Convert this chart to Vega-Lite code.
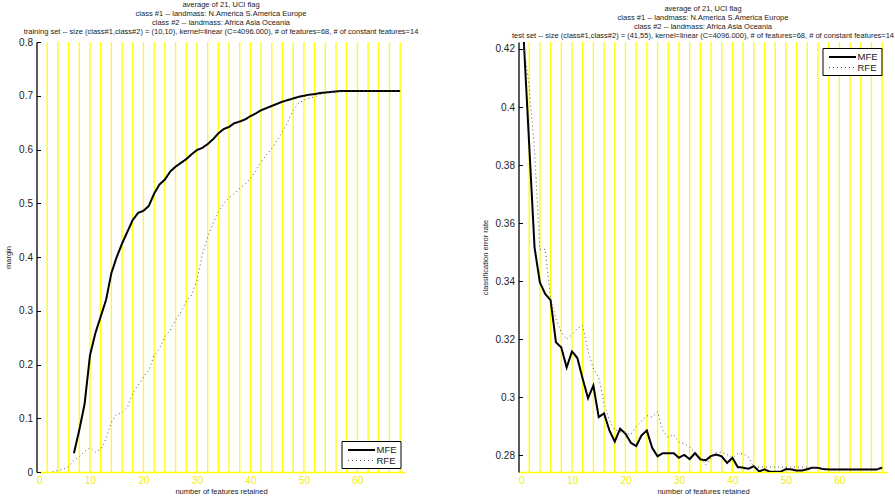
{
  "$schema": "https://vega.github.io/schema/vega-lite/v6.json",
  "padding": {"left": 4.5, "top": 0, "right": 0, "bottom": 0},
  "background": "white",
  "bounds": "flush",
  "spacing": 113,
  "config": {
    "font": "Liberation Sans",
    "view": {"stroke": null},
    "title": {"fontSize": 7.5, "fontWeight": "normal", "color": "#222", "lineHeight": 9, "offset": 2, "frame": "group", "anchor": "middle"},
    "axis": {"labelFont": "Liberation Sans", "titleFont": "Liberation Sans", "grid": false},
    "legend": {"labelFont": "Liberation Sans"}
  },
  "datasets": {
    "grid": [
      {"n": 2}, {"n": 4}, {"n": 6}, {"n": 8}, {"n": 10}, {"n": 12}, {"n": 14}, {"n": 16}, {"n": 18}, {"n": 20},
      {"n": 22}, {"n": 24}, {"n": 26}, {"n": 28}, {"n": 30}, {"n": 32}, {"n": 34}, {"n": 36}, {"n": 38}, {"n": 40},
      {"n": 42}, {"n": 44}, {"n": 46}, {"n": 48}, {"n": 50}, {"n": 52}, {"n": 54}, {"n": 56}, {"n": 58}, {"n": 60},
      {"n": 62}, {"n": 64}, {"n": 66}, {"n": 68}
    ],
    "train": [
      {"series": "MFE", "n": 7, "v": 0.035}, {"series": "MFE", "n": 8, "v": 0.078}, {"series": "MFE", "n": 9, "v": 0.127},
      {"series": "MFE", "n": 10, "v": 0.217}, {"series": "MFE", "n": 11, "v": 0.258}, {"series": "MFE", "n": 12, "v": 0.289},
      {"series": "MFE", "n": 13, "v": 0.32}, {"series": "MFE", "n": 14, "v": 0.37}, {"series": "MFE", "n": 15, "v": 0.4},
      {"series": "MFE", "n": 16, "v": 0.425}, {"series": "MFE", "n": 17, "v": 0.447}, {"series": "MFE", "n": 18, "v": 0.469},
      {"series": "MFE", "n": 19, "v": 0.482}, {"series": "MFE", "n": 20, "v": 0.486}, {"series": "MFE", "n": 21, "v": 0.495},
      {"series": "MFE", "n": 22, "v": 0.518}, {"series": "MFE", "n": 23, "v": 0.535}, {"series": "MFE", "n": 24, "v": 0.544},
      {"series": "MFE", "n": 25, "v": 0.559}, {"series": "MFE", "n": 26, "v": 0.568}, {"series": "MFE", "n": 27, "v": 0.575},
      {"series": "MFE", "n": 28, "v": 0.582}, {"series": "MFE", "n": 29, "v": 0.591}, {"series": "MFE", "n": 30, "v": 0.599},
      {"series": "MFE", "n": 31, "v": 0.603}, {"series": "MFE", "n": 32, "v": 0.61}, {"series": "MFE", "n": 33, "v": 0.619},
      {"series": "MFE", "n": 34, "v": 0.63}, {"series": "MFE", "n": 35, "v": 0.638}, {"series": "MFE", "n": 36, "v": 0.642},
      {"series": "MFE", "n": 37, "v": 0.649}, {"series": "MFE", "n": 38, "v": 0.652}, {"series": "MFE", "n": 39, "v": 0.656},
      {"series": "MFE", "n": 40, "v": 0.662}, {"series": "MFE", "n": 41, "v": 0.667}, {"series": "MFE", "n": 42, "v": 0.673},
      {"series": "MFE", "n": 43, "v": 0.677}, {"series": "MFE", "n": 44, "v": 0.681}, {"series": "MFE", "n": 45, "v": 0.685},
      {"series": "MFE", "n": 46, "v": 0.689}, {"series": "MFE", "n": 47, "v": 0.692}, {"series": "MFE", "n": 48, "v": 0.695},
      {"series": "MFE", "n": 49, "v": 0.698}, {"series": "MFE", "n": 50, "v": 0.7}, {"series": "MFE", "n": 51, "v": 0.702},
      {"series": "MFE", "n": 52, "v": 0.703}, {"series": "MFE", "n": 53, "v": 0.705}, {"series": "MFE", "n": 54, "v": 0.706},
      {"series": "MFE", "n": 55, "v": 0.707}, {"series": "MFE", "n": 56, "v": 0.708}, {"series": "MFE", "n": 57, "v": 0.709},
      {"series": "MFE", "n": 58, "v": 0.709}, {"series": "MFE", "n": 59, "v": 0.709}, {"series": "MFE", "n": 60, "v": 0.709},
      {"series": "MFE", "n": 61, "v": 0.709}, {"series": "MFE", "n": 62, "v": 0.709}, {"series": "MFE", "n": 63, "v": 0.709},
      {"series": "MFE", "n": 64, "v": 0.709}, {"series": "MFE", "n": 65, "v": 0.709}, {"series": "MFE", "n": 66, "v": 0.709},
      {"series": "MFE", "n": 67, "v": 0.709}, {"series": "MFE", "n": 68, "v": 0.709},
      {"series": "RFE", "n": 3, "v": 0.0}, {"series": "RFE", "n": 4, "v": 0.003}, {"series": "RFE", "n": 5, "v": 0.005},
      {"series": "RFE", "n": 6, "v": 0.01}, {"series": "RFE", "n": 7, "v": 0.022}, {"series": "RFE", "n": 8, "v": 0.028},
      {"series": "RFE", "n": 9, "v": 0.038}, {"series": "RFE", "n": 10, "v": 0.045}, {"series": "RFE", "n": 11, "v": 0.037},
      {"series": "RFE", "n": 12, "v": 0.042}, {"series": "RFE", "n": 13, "v": 0.062}, {"series": "RFE", "n": 14, "v": 0.093},
      {"series": "RFE", "n": 15, "v": 0.108}, {"series": "RFE", "n": 16, "v": 0.11}, {"series": "RFE", "n": 17, "v": 0.121},
      {"series": "RFE", "n": 18, "v": 0.146}, {"series": "RFE", "n": 19, "v": 0.161}, {"series": "RFE", "n": 20, "v": 0.177},
      {"series": "RFE", "n": 21, "v": 0.189}, {"series": "RFE", "n": 22, "v": 0.217}, {"series": "RFE", "n": 23, "v": 0.23},
      {"series": "RFE", "n": 24, "v": 0.251}, {"series": "RFE", "n": 25, "v": 0.264}, {"series": "RFE", "n": 26, "v": 0.282},
      {"series": "RFE", "n": 27, "v": 0.298}, {"series": "RFE", "n": 28, "v": 0.317}, {"series": "RFE", "n": 29, "v": 0.329},
      {"series": "RFE", "n": 30, "v": 0.356}, {"series": "RFE", "n": 31, "v": 0.405}, {"series": "RFE", "n": 32, "v": 0.437},
      {"series": "RFE", "n": 33, "v": 0.462}, {"series": "RFE", "n": 34, "v": 0.484}, {"series": "RFE", "n": 35, "v": 0.5},
      {"series": "RFE", "n": 36, "v": 0.51}, {"series": "RFE", "n": 37, "v": 0.518}, {"series": "RFE", "n": 38, "v": 0.528},
      {"series": "RFE", "n": 39, "v": 0.535}, {"series": "RFE", "n": 40, "v": 0.546}, {"series": "RFE", "n": 41, "v": 0.56},
      {"series": "RFE", "n": 42, "v": 0.577}, {"series": "RFE", "n": 43, "v": 0.59}, {"series": "RFE", "n": 44, "v": 0.602},
      {"series": "RFE", "n": 45, "v": 0.617}, {"series": "RFE", "n": 46, "v": 0.633}, {"series": "RFE", "n": 47, "v": 0.652},
      {"series": "RFE", "n": 48, "v": 0.673}, {"series": "RFE", "n": 49, "v": 0.686}, {"series": "RFE", "n": 50, "v": 0.692},
      {"series": "RFE", "n": 51, "v": 0.695}, {"series": "RFE", "n": 52, "v": 0.698}, {"series": "RFE", "n": 53, "v": 0.702},
      {"series": "RFE", "n": 54, "v": 0.705}, {"series": "RFE", "n": 55, "v": 0.706}, {"series": "RFE", "n": 56, "v": 0.7075},
      {"series": "RFE", "n": 57, "v": 0.708}, {"series": "RFE", "n": 58, "v": 0.709}, {"series": "RFE", "n": 59, "v": 0.709},
      {"series": "RFE", "n": 60, "v": 0.709}, {"series": "RFE", "n": 61, "v": 0.709}, {"series": "RFE", "n": 62, "v": 0.709},
      {"series": "RFE", "n": 63, "v": 0.709}, {"series": "RFE", "n": 64, "v": 0.709}, {"series": "RFE", "n": 65, "v": 0.709},
      {"series": "RFE", "n": 66, "v": 0.709}, {"series": "RFE", "n": 67, "v": 0.709}, {"series": "RFE", "n": 68, "v": 0.709}
    ],
    "test": [
      {"series": "MFE", "n": 1, "v": 0.4224}, {"series": "MFE", "n": 2, "v": 0.387}, {"series": "MFE", "n": 3, "v": 0.3516},
      {"series": "MFE", "n": 4, "v": 0.3396}, {"series": "MFE", "n": 5, "v": 0.3356}, {"series": "MFE", "n": 6, "v": 0.3335},
      {"series": "MFE", "n": 7, "v": 0.319}, {"series": "MFE", "n": 8, "v": 0.3172}, {"series": "MFE", "n": 9, "v": 0.3103},
      {"series": "MFE", "n": 10, "v": 0.3158}, {"series": "MFE", "n": 11, "v": 0.3136}, {"series": "MFE", "n": 12, "v": 0.3064},
      {"series": "MFE", "n": 13, "v": 0.2997}, {"series": "MFE", "n": 14, "v": 0.3041}, {"series": "MFE", "n": 15, "v": 0.2932},
      {"series": "MFE", "n": 16, "v": 0.2945}, {"series": "MFE", "n": 17, "v": 0.2886}, {"series": "MFE", "n": 18, "v": 0.2848},
      {"series": "MFE", "n": 19, "v": 0.2892}, {"series": "MFE", "n": 20, "v": 0.2875}, {"series": "MFE", "n": 21, "v": 0.2844},
      {"series": "MFE", "n": 22, "v": 0.2832}, {"series": "MFE", "n": 23, "v": 0.2869}, {"series": "MFE", "n": 24, "v": 0.2886},
      {"series": "MFE", "n": 25, "v": 0.2826}, {"series": "MFE", "n": 26, "v": 0.2797}, {"series": "MFE", "n": 27, "v": 0.2808},
      {"series": "MFE", "n": 28, "v": 0.2808}, {"series": "MFE", "n": 29, "v": 0.2808}, {"series": "MFE", "n": 30, "v": 0.2792},
      {"series": "MFE", "n": 31, "v": 0.2802}, {"series": "MFE", "n": 32, "v": 0.2787}, {"series": "MFE", "n": 33, "v": 0.2808},
      {"series": "MFE", "n": 34, "v": 0.2787}, {"series": "MFE", "n": 35, "v": 0.2783}, {"series": "MFE", "n": 36, "v": 0.2798},
      {"series": "MFE", "n": 37, "v": 0.2803}, {"series": "MFE", "n": 38, "v": 0.2797}, {"series": "MFE", "n": 39, "v": 0.2774},
      {"series": "MFE", "n": 40, "v": 0.2792}, {"series": "MFE", "n": 41, "v": 0.276}, {"series": "MFE", "n": 42, "v": 0.2758},
      {"series": "MFE", "n": 43, "v": 0.2754}, {"series": "MFE", "n": 44, "v": 0.2763}, {"series": "MFE", "n": 45, "v": 0.2745},
      {"series": "MFE", "n": 46, "v": 0.2752}, {"series": "MFE", "n": 47, "v": 0.2744}, {"series": "MFE", "n": 48, "v": 0.2744},
      {"series": "MFE", "n": 49, "v": 0.2744}, {"series": "MFE", "n": 50, "v": 0.2753}, {"series": "MFE", "n": 51, "v": 0.2752},
      {"series": "MFE", "n": 52, "v": 0.2748}, {"series": "MFE", "n": 53, "v": 0.2748}, {"series": "MFE", "n": 54, "v": 0.2753},
      {"series": "MFE", "n": 55, "v": 0.2758}, {"series": "MFE", "n": 56, "v": 0.2757}, {"series": "MFE", "n": 57, "v": 0.2753},
      {"series": "MFE", "n": 58, "v": 0.2752}, {"series": "MFE", "n": 59, "v": 0.2752}, {"series": "MFE", "n": 60, "v": 0.2752},
      {"series": "MFE", "n": 61, "v": 0.2752}, {"series": "MFE", "n": 62, "v": 0.2752}, {"series": "MFE", "n": 63, "v": 0.2752},
      {"series": "MFE", "n": 64, "v": 0.2752}, {"series": "MFE", "n": 65, "v": 0.2752}, {"series": "MFE", "n": 66, "v": 0.2752},
      {"series": "MFE", "n": 67, "v": 0.2752}, {"series": "MFE", "n": 68, "v": 0.2758},
      {"series": "RFE", "n": 1, "v": 0.421}, {"series": "RFE", "n": 2, "v": 0.407}, {"series": "RFE", "n": 3, "v": 0.385},
      {"series": "RFE", "n": 4, "v": 0.351}, {"series": "RFE", "n": 5, "v": 0.351}, {"series": "RFE", "n": 6, "v": 0.334},
      {"series": "RFE", "n": 7, "v": 0.327}, {"series": "RFE", "n": 8, "v": 0.3225}, {"series": "RFE", "n": 9, "v": 0.32},
      {"series": "RFE", "n": 10, "v": 0.3216}, {"series": "RFE", "n": 11, "v": 0.3237}, {"series": "RFE", "n": 12, "v": 0.3247},
      {"series": "RFE", "n": 13, "v": 0.316}, {"series": "RFE", "n": 14, "v": 0.3098}, {"series": "RFE", "n": 15, "v": 0.3069},
      {"series": "RFE", "n": 16, "v": 0.298}, {"series": "RFE", "n": 17, "v": 0.292}, {"series": "RFE", "n": 18, "v": 0.2888},
      {"series": "RFE", "n": 19, "v": 0.2882}, {"series": "RFE", "n": 20, "v": 0.2876}, {"series": "RFE", "n": 21, "v": 0.2872},
      {"series": "RFE", "n": 22, "v": 0.29}, {"series": "RFE", "n": 23, "v": 0.2918}, {"series": "RFE", "n": 24, "v": 0.2937},
      {"series": "RFE", "n": 25, "v": 0.2932}, {"series": "RFE", "n": 26, "v": 0.295}, {"series": "RFE", "n": 27, "v": 0.2885},
      {"series": "RFE", "n": 28, "v": 0.2862}, {"series": "RFE", "n": 29, "v": 0.2872}, {"series": "RFE", "n": 30, "v": 0.2846},
      {"series": "RFE", "n": 31, "v": 0.284}, {"series": "RFE", "n": 32, "v": 0.2829}, {"series": "RFE", "n": 33, "v": 0.2811},
      {"series": "RFE", "n": 34, "v": 0.279}, {"series": "RFE", "n": 35, "v": 0.2768}, {"series": "RFE", "n": 36, "v": 0.279},
      {"series": "RFE", "n": 37, "v": 0.2811}, {"series": "RFE", "n": 38, "v": 0.2811}, {"series": "RFE", "n": 39, "v": 0.2803},
      {"series": "RFE", "n": 40, "v": 0.2792}, {"series": "RFE", "n": 41, "v": 0.2806}, {"series": "RFE", "n": 42, "v": 0.2806},
      {"series": "RFE", "n": 43, "v": 0.2795}, {"series": "RFE", "n": 44, "v": 0.276}, {"series": "RFE", "n": 45, "v": 0.276},
      {"series": "RFE", "n": 46, "v": 0.276}, {"series": "RFE", "n": 47, "v": 0.276}, {"series": "RFE", "n": 48, "v": 0.276},
      {"series": "RFE", "n": 49, "v": 0.276}, {"series": "RFE", "n": 50, "v": 0.276}, {"series": "RFE", "n": 51, "v": 0.276},
      {"series": "RFE", "n": 52, "v": 0.276}, {"series": "RFE", "n": 53, "v": 0.276}, {"series": "RFE", "n": 54, "v": 0.276},
      {"series": "RFE", "n": 55, "v": 0.276}, {"series": "RFE", "n": 56, "v": 0.2755}, {"series": "RFE", "n": 57, "v": 0.2755},
      {"series": "RFE", "n": 58, "v": 0.2755}, {"series": "RFE", "n": 59, "v": 0.2755}, {"series": "RFE", "n": 60, "v": 0.2755},
      {"series": "RFE", "n": 61, "v": 0.2755}, {"series": "RFE", "n": 62, "v": 0.2755}, {"series": "RFE", "n": 63, "v": 0.2755},
      {"series": "RFE", "n": 64, "v": 0.2755}, {"series": "RFE", "n": 65, "v": 0.2755}, {"series": "RFE", "n": 66, "v": 0.2755},
      {"series": "RFE", "n": 67, "v": 0.2755}, {"series": "RFE", "n": 68, "v": 0.2755}
    ]
  },
  "hconcat": [
    {
      "width": 369,
      "height": 430,
      "title": {"text": ["average of 21, UCI flag", "class #1 -- landmass: N.America S.America Europe", "class #2 -- landmass: Africa Asia Oceania", "training set -- size (class#1,class#2) = (10,10), kernel=linear (C=4096.000), # of features=68, # of constant features=14"]},
      "layer": [
        {
          "data": {"name": "grid"},
          "mark": {"type": "rule", "color": "#ffff00", "strokeWidth": 1.3},
          "encoding": {"x": {"field": "n", "type": "quantitative", "scale": {"domain": [0, 69], "nice": false}}}
        },
        {
          "data": {"name": "train"},
          "mark": {"type": "line", "clip": true},
          "encoding": {
            "x": {"field": "n", "type": "quantitative", "scale": {"domain": [0, 69], "nice": false},
              "axis": {"title": "number of features retained", "values": [0, 10, 20, 30, 40, 50, 60], "ticks": false, "domainColor": "#ffff00", "domainWidth": 1.3, "labelColor": "#f0f000", "labelFontSize": 10, "labelPadding": 3, "titleFontSize": 7.5, "titleFontWeight": "normal", "titleColor": "#222", "titlePadding": 2}},
            "y": {"field": "v", "type": "quantitative", "scale": {"domain": [0, 0.8], "nice": false, "zero": false},
              "axis": {"title": "margin", "values": [0, 0.1, 0.2, 0.3, 0.4, 0.5, 0.6, 0.7, 0.8], "format": "~g", "tickSize": -4, "tickColor": "black", "domainColor": "black", "domainWidth": 1.3, "labelColor": "#222", "labelFontSize": 10, "labelPadding": 8, "titleFontSize": 7.5, "titleFontWeight": "normal", "titleColor": "#222", "titlePadding": 6}},
            "color": {"field": "series", "type": "nominal", "scale": {"domain": ["MFE", "RFE"], "range": ["black", "#555555"]},
              "legend": {"title": null, "orient": "none", "legendX": 305, "legendY": 399, "strokeColor": "black", "fillColor": "white", "padding": 3, "symbolType": "M-0.5,0H4.9", "symbolSize": 100, "labelFontSize": 9.5, "labelColor": "#222", "rowPadding": -2, "labelOffset": 20}},
            "strokeDash": {"field": "series", "type": "nominal", "scale": {"domain": ["MFE", "RFE"], "range": [[1, 0], [1, 3]]},
              "legend": {"title": null, "orient": "none", "legendX": 305, "legendY": 399, "strokeColor": "black", "fillColor": "white", "padding": 3, "symbolType": "M-0.5,0H4.9", "symbolSize": 100, "labelFontSize": 9.5, "labelColor": "#222", "rowPadding": -2, "labelOffset": 20}},
            "strokeWidth": {"field": "series", "type": "nominal", "scale": {"domain": ["MFE", "RFE"], "range": [2, 1]},
              "legend": {"title": null, "orient": "none", "legendX": 305, "legendY": 399, "strokeColor": "black", "fillColor": "white", "padding": 3, "symbolType": "M-0.5,0H4.9", "symbolSize": 100, "labelFontSize": 9.5, "labelColor": "#222", "rowPadding": -2, "labelOffset": 20}}
          }
        }
      ]
    },
    {
      "width": 369,
      "height": 430,
      "title": {"text": ["average of 21, UCI flag", "class #1 -- landmass: N.America S.America Europe", "class #2 -- landmass: Africa Asia Oceania", "test set -- size (class#1,class#2) = (41,55), kernel=linear (C=4096.000), # of features=68, # of constant features=14"]},
      "layer": [
        {
          "data": {"name": "grid"},
          "mark": {"type": "rule", "color": "#ffff00", "strokeWidth": 1.3},
          "encoding": {"x": {"field": "n", "type": "quantitative", "scale": {"domain": [0, 69], "nice": false}}}
        },
        {
          "data": {"name": "test"},
          "mark": {"type": "line", "clip": true},
          "encoding": {
            "x": {"field": "n", "type": "quantitative", "scale": {"domain": [0, 69], "nice": false},
              "axis": {"title": "number of features retained", "values": [0, 10, 20, 30, 40, 50, 60], "ticks": false, "domainColor": "#ffff00", "domainWidth": 1.3, "labelColor": "#f0f000", "labelFontSize": 10, "labelPadding": 3, "titleFontSize": 7.5, "titleFontWeight": "normal", "titleColor": "#222", "titlePadding": 2}},
            "y": {"field": "v", "type": "quantitative", "scale": {"domain": [0.2743, 0.4224], "nice": false, "zero": false},
              "axis": {"title": "classification error rate", "values": [0.28, 0.3, 0.32, 0.34, 0.36, 0.38, 0.4, 0.42], "format": "~g", "tickSize": -4, "tickColor": "black", "domainColor": "black", "domainWidth": 1.3, "labelColor": "#222", "labelFontSize": 10, "labelPadding": 8, "titleFontSize": 7.5, "titleFontWeight": "normal", "titleColor": "#222", "titlePadding": 6}},
            "color": {"field": "series", "type": "nominal", "scale": {"domain": ["MFE", "RFE"], "range": ["black", "#555555"]},
              "legend": {"title": null, "orient": "none", "legendX": 304, "legendY": 6, "strokeColor": "black", "fillColor": "white", "padding": 3, "symbolType": "M-0.5,0H4.9", "symbolSize": 100, "labelFontSize": 9.5, "labelColor": "#222", "rowPadding": -2, "labelOffset": 20}},
            "strokeDash": {"field": "series", "type": "nominal", "scale": {"domain": ["MFE", "RFE"], "range": [[1, 0], [1, 3]]},
              "legend": {"title": null, "orient": "none", "legendX": 304, "legendY": 6, "strokeColor": "black", "fillColor": "white", "padding": 3, "symbolType": "M-0.5,0H4.9", "symbolSize": 100, "labelFontSize": 9.5, "labelColor": "#222", "rowPadding": -2, "labelOffset": 20}},
            "strokeWidth": {"field": "series", "type": "nominal", "scale": {"domain": ["MFE", "RFE"], "range": [2, 1]},
              "legend": {"title": null, "orient": "none", "legendX": 304, "legendY": 6, "strokeColor": "black", "fillColor": "white", "padding": 3, "symbolType": "M-0.5,0H4.9", "symbolSize": 100, "labelFontSize": 9.5, "labelColor": "#222", "rowPadding": -2, "labelOffset": 20}}
          }
        }
      ]
    }
  ],
  "resolve": {"scale": {"y": "independent", "color": "independent", "strokeDash": "independent", "strokeWidth": "independent"}, "legend": {"color": "independent", "strokeDash": "independent", "strokeWidth": "independent"}}
}
